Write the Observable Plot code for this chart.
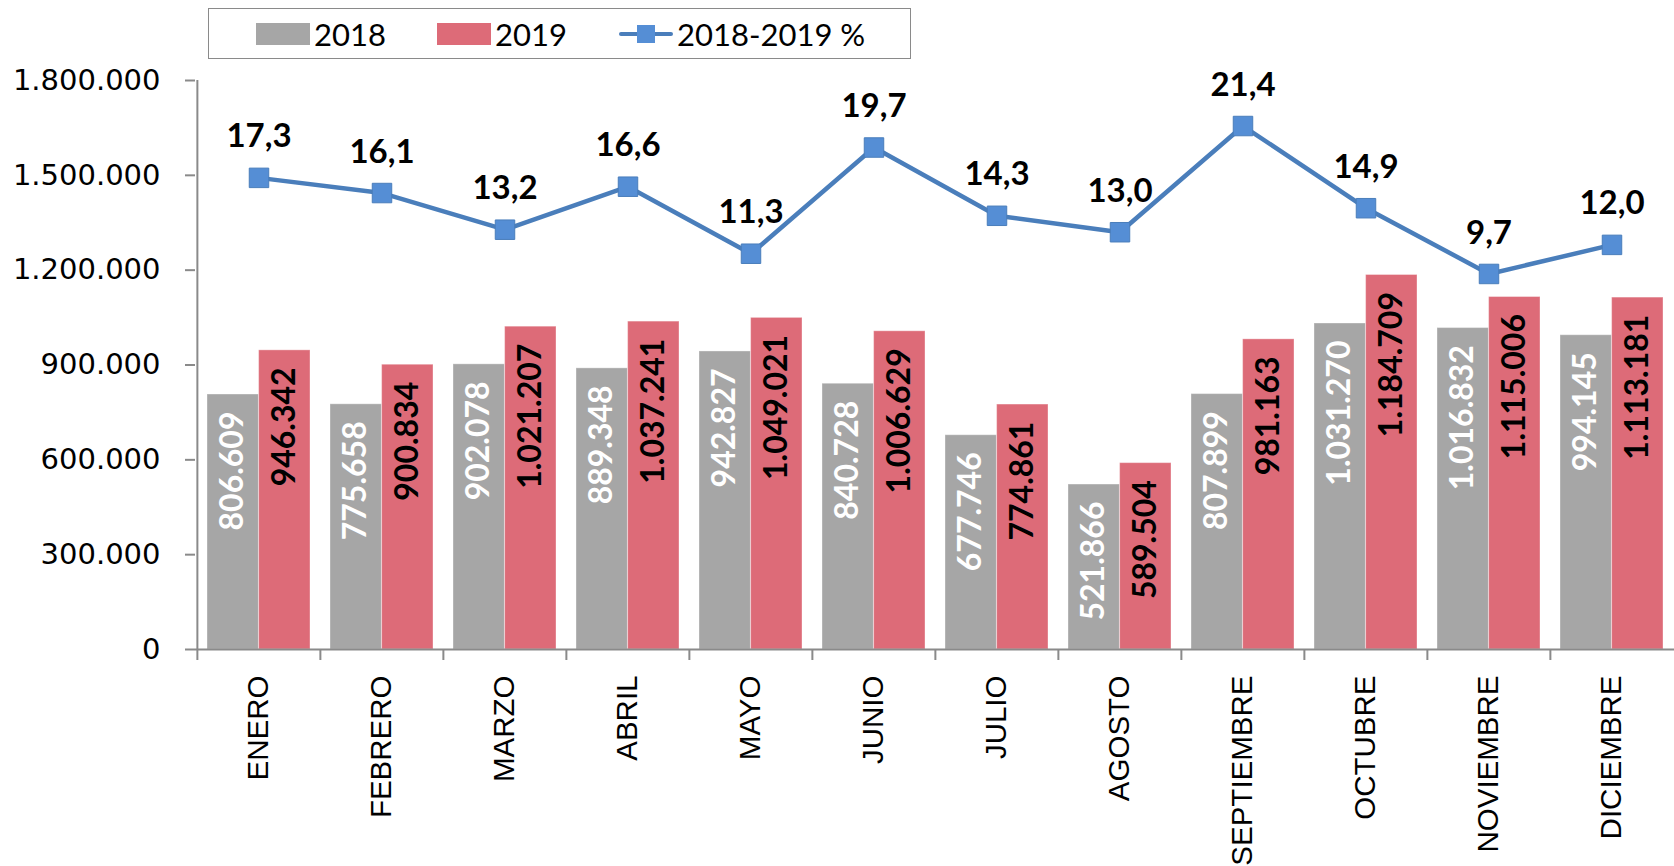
<!DOCTYPE html>
<html>
<head>
<meta charset="utf-8">
<script src="https://cdn.jsdelivr.net/npm/d3@7"></script>
<script src="https://cdn.jsdelivr.net/npm/@observablehq/plot@0.6"></script>
<style>
  html, body { margin: 0; padding: 0; background: #fff; }
  #wrap { position: relative; width: 1674px; height: 866px; overflow: hidden; }
  #legend { position: relative; height: 62px; }
  #legend .box { position: absolute; left: 208px; top: 8px; width: 703px; height: 51px; border: 1.5px solid #8a8a8a; box-sizing: border-box; }
  #legend .item { position: absolute; top: 0; height: 51px; display: flex; align-items: center; font-family: Lato, sans-serif; font-size: 31px; color: #000; }
  #legend .sw { display: inline-block; width: 54px; height: 22px; margin-right: 4px; }
  #legend .ln { position: relative; display: inline-block; width: 54px; height: 22px; margin-right: 4px; }
  #legend .ln::before { content: ""; position: absolute; left: 0; right: 0; top: 9px; height: 4.5px; background: #4a7ebb; border-radius: 2px; }
  #legend .ln::after { content: ""; position: absolute; left: 18px; top: 2px; width: 18px; height: 18px; background: #558ed5; }
</style>
</head>
<body>
<div id="wrap">
  <div id="legend"><div class="box"></div></div>
  <div id="chart"></div>
</div>
<script>
const months = ["ENERO","FEBRERO","MARZO","ABRIL","MAYO","JUNIO","JULIO","AGOSTO","SEPTIEMBRE","OCTUBRE","NOVIEMBRE","DICIEMBRE"];
const v2018 = [806609, 775658, 902078, 889348, 942827, 840728, 677746, 521866, 807899, 1031270, 1016832, 994145];
const v2019 = [946342, 900834, 1021207, 1037241, 1049021, 1006629, 774861, 589504, 981163, 1184709, 1115006, 1113181];
const pct = [17.3, 16.1, 13.2, 16.6, 11.3, 19.7, 14.3, 13.0, 21.4, 14.9, 9.7, 12.0];
const yTicks = [0, 300000, 600000, 900000, 1200000, 1500000, 1800000];
const seriesNames = ["2018", "2019", "2018-2019 %"];
const colors = ["#a6a6a6", "#dd6b78", "#4a7ebb"];
// secondary (hidden) axis range for the percentage line
const pctMin = -20, pctMax = 25;

const locale = d3.formatLocale({decimal: ",", thousands: ".", grouping: [3], currency: ["", ""]});
const fmtInt = locale.format(",d");
const fmtPct = locale.format(".1f");

// legend (HTML)
const legend = document.getElementById("legend");
const legendItems = [
  {name: seriesNames[0], left: 256, kind: "sw", color: colors[0]},
  {name: seriesNames[1], left: 437, kind: "sw", color: colors[1]},
  {name: seriesNames[2], left: 619, kind: "ln", color: colors[2]}
];
for (const it of legendItems) {
  const d = document.createElement("div");
  d.className = "item";
  d.style.left = it.left + "px";
  d.style.top = "8px";
  const s = document.createElement("span");
  s.className = it.kind;
  if (it.kind === "sw") s.style.background = it.color;
  d.appendChild(s);
  d.appendChild(document.createTextNode(it.name));
  legend.appendChild(d);
}

const data = months.map((m, i) => ({month: m, a: v2018[i], b: v2019[i], p: pct[i]}));

const W = 1674, H = 804, ML = 195, MR = 0, MT = 18, MB = 217;
const bw = (W - ML - MR) / months.length;
const outer = 10;
const barW = (bw - 2 * outer) / 2;
const yMax = yTicks[yTicks.length - 1];
const pToY = p => (p - pctMin) / (pctMax - pctMin) * yMax;

const chart = Plot.plot({
  width: W, height: H,
  marginLeft: ML, marginRight: MR, marginTop: MT, marginBottom: MB,
  style: {background: "#fff", overflow: "visible"},
  x: {type: "band", domain: months, padding: 0, axis: null, label: null},
  y: {domain: [0, yMax], axis: null, label: null},
  marks: [
    Plot.barY(data, {x: "month", y: "a", fill: colors[0], stroke: "#ffffff", strokeOpacity: 0.35, strokeWidth: 1, insetLeft: outer, insetRight: bw - outer - barW}),
    Plot.barY(data, {x: "month", y: "b", fill: colors[1], stroke: "#ffffff", strokeOpacity: 0.35, strokeWidth: 1, insetLeft: outer + barW, insetRight: outer}),
    Plot.ruleY([0], {stroke: "#8a8a8a", strokeWidth: 2}),
    Plot.ruleX([months[0]], {x: d => d, dx: -bw / 2, y1: 0, y2: yMax, stroke: "#8a8a8a", strokeWidth: 2}),
    Plot.axisY({ticks: yTicks, label: null, tickSize: 10, tickPadding: 25, tickFormat: fmtInt, fontSize: 29, fontFamily: "DejaVu Sans", stroke: "#8a8a8a", strokeWidth: 2, fill: "#000"}),
    Plot.axisX({label: null, tickSize: 11, tickFormat: () => "", dx: -bw / 2, stroke: "#8a8a8a", strokeWidth: 2}),
    Plot.axisX({label: null, tickSize: 0, tickPadding: 26, tickRotate: -90, fontSize: 29.5, fontFamily: "Liberation Sans", fill: "#000"}),
    Plot.text(data, {x: "month", y: "a", text: d => fmtInt(d.a), rotate: -90, textAnchor: "end", lineAnchor: "middle", dx: -barW / 2, dy: 17, fill: "#fff", fontSize: 32, fontFamily: "Lato", fontWeight: "bold"}),
    Plot.text(data, {x: "month", y: "b", text: d => fmtInt(d.b), rotate: -90, textAnchor: "end", lineAnchor: "middle", dx: barW / 2, dy: 17, fill: "#000", fontSize: 32, fontFamily: "Lato", fontWeight: "bold"}),
    Plot.line(data, {x: "month", y: d => pToY(d.p), stroke: colors[2], strokeWidth: 4.5}),
    Plot.dot(data, {x: "month", y: d => pToY(d.p), symbol: "square", r: 11, fill: "#558ed5", stroke: "#4a7ebb", strokeWidth: 1}),
    Plot.text(data, {x: "month", y: d => pToY(d.p), text: d => fmtPct(d.p), dy: -41, fill: "#000", fontSize: 33, fontFamily: "Lato", fontWeight: "bold"})
  ]
});
document.getElementById("chart").appendChild(chart);
</script>
</body>
</html>
